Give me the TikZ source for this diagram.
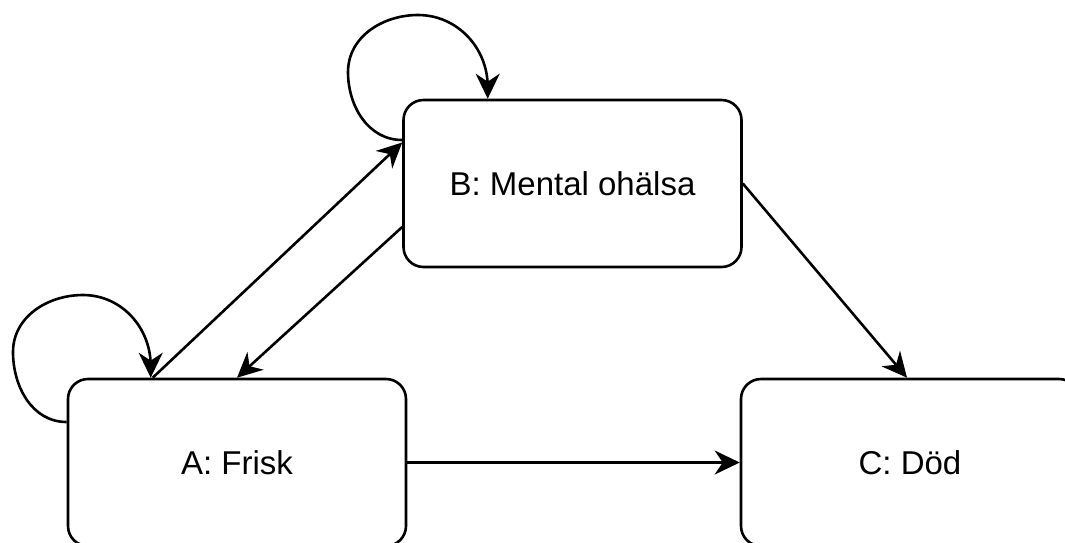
\documentclass[tikz,border=0pt]{standalone}
\usepackage{fontspec}
\setmainfont{Liberation Sans}
\usetikzlibrary{arrows.meta,calc}
\begin{document}
\begin{tikzpicture}[x=1pt,y=-1pt,
  state/.style={draw, line width=2.6pt, rounded corners=20pt, minimum width=338pt, minimum height=167pt, inner sep=0pt, font=\fontsize{33}{40}\selectfont},
  conn/.style={line width=2.6pt, -{Stealth[length=25pt,width=24pt,inset=8pt]}}]
\useasboundingbox (0,0) rectangle (1065,542);
\fill[white] (0,0) rectangle (1065,542);
\clip (0,0) rectangle (1065,542);
\node[state] (B) at (572.5,183.5) {B: Mental ohälsa};
\node[state] (A) at (237,462.5) {A: Frisk};
\node[state] (C) at (910,462.5) {C: Död};
% self loops
\coordinate (As) at ($(A.west)+(0,-40.5)$);
\coordinate (Ae) at ($(A.north west)+(84,0)$);
\draw[conn] (As) to[out=180,in=-90] (13,352) to[out=90,in=180] (83,295) to[out=0,in=90] ($(Ae)+(0,-12)$) -- (Ae);
\coordinate (Bs) at ($(B.west)+(0,-43.5)$);
\coordinate (Be) at ($(B.north west)+(85.5,0)$);
\draw[conn] (Bs) to[out=180,in=-90] (348,72) to[out=90,in=180] (418,15) to[out=0,in=90] ($(Be)+(0,-12)$) -- (Be);
% transitions
\draw[conn] ($(A.north west)+(86,0)$) -- ($(B.west)+(0,-41)$);
\draw[conn] ($(B.west)+(0,43.5)$) -- (A.north);
\draw[conn] (B.east) -- ($(C.north)+(-3,0)$);
\draw[conn] (A.east) -- (C.west);
\end{tikzpicture}
\end{document}
